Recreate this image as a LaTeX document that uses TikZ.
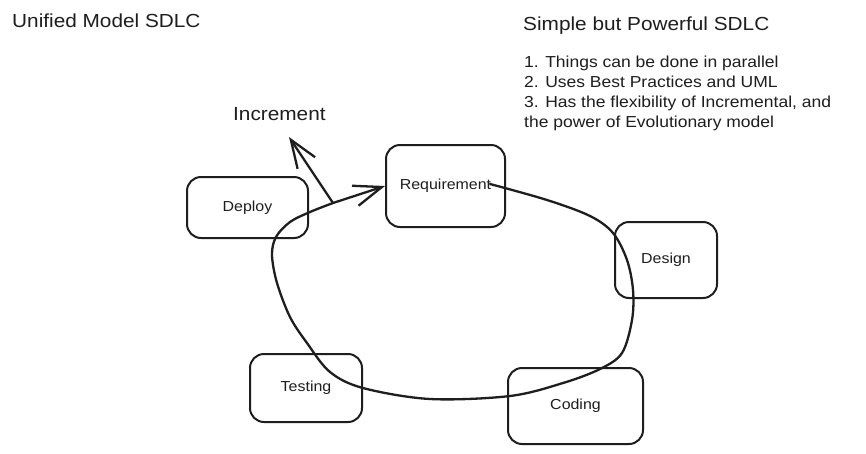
\documentclass[tikz,border=0pt]{standalone}
\usepackage{fontspec}
\setmainfont[FakeStretch=1.1]{Liberation Sans}
\usetikzlibrary{arrows.meta}
\definecolor{ink}{HTML}{1E1E1E}
\tikzset{
  stagebox/.style={draw=ink, line width=2pt, rounded corners=14pt, inner sep=0pt,
    text=ink, font=\fontsize{14.5}{16}\selectfont},
  titletext/.style={text=ink, font=\fontsize{18.9}{22}\selectfont, inner sep=0pt, anchor=base west},
  listtext/.style={text=ink, font=\fontsize{15.9}{20}\selectfont, inner sep=0pt, anchor=base west},
  flow/.style={draw=ink, line width=2.3pt, line cap=round, line join=round},
  barb/.style={-{Straight Barb[length=28pt, width=21pt, line width=2.3pt]}}
}
\begin{document}
\begin{tikzpicture}[x=1pt, y=-1pt]
\useasboundingbox[fill=white] (0,0) rectangle (866,453);

% titles and notes
\node[titletext] (title) at (12,27) {Unified Model SDLC};
\node[titletext] (title2) at (523,30) {Simple but Powerful SDLC};
\node[listtext] (l1) at (524,67) {1. Things can be done in parallel};
\node[listtext] (l2) at (524,87) {2. Uses Best Practices and UML};
\node[listtext] (l3) at (524,107) {3. Has the flexibility of Incremental, and};
\node[listtext] (l4) at (524,127) {the power of Evolutionary model};
\node[titletext] (inc) at (233,120) {Increment};

% stage boxes
\node[stagebox, minimum width=121pt, minimum height=61pt] (deploy) at (247.5,207.5) {Deploy};
\node[stagebox, minimum width=119pt, minimum height=82pt] (req) at (445.5,186) {Requirement};
\node[stagebox, minimum width=102pt, minimum height=76pt] (design) at (666,260) {Design};
\node[stagebox, minimum width=112pt, minimum height=68pt] (testing) at (306,388) {Testing};
\node[stagebox, minimum width=135pt, minimum height=76pt] (coding) at (575.5,406) {Coding};

% loop
\coordinate (loopstart) at (490,184);
\coordinate (incstart) at (333,203);
\coordinate (inctip) at (289,137);
\draw[flow] plot[smooth, tension=0.55] coordinates {
  (490,184) (547,200) (590,216) (613,233) (627,260) (633,290) (632,320)
  (622,353) (600,369) (563,383) (510,396) (430,399) (363,388) (330,372)
  (307,343) (290,317) (277,283) (272,255) (276,237) (290,222) (310,212) (333,203)};
\draw[flow, barb] (incstart) -- (req.west);
\draw[flow, barb] (incstart) -- (inctip);
\end{tikzpicture}
\end{document}
